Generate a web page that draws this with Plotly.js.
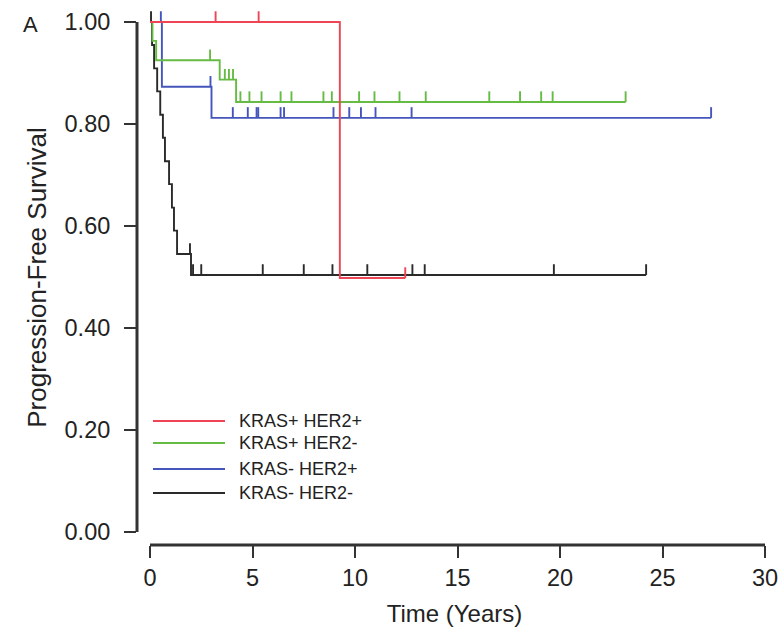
<!DOCTYPE html>
<html><head><meta charset="utf-8">
<script src="https://cdn.plot.ly/plotly-3.0.1.min.js"></script>
<style>html,body{margin:0;padding:0;background:#fff}#chart{width:782px;height:627px}</style>
</head><body><div id="chart"></div>
<script>
// ---- data ----
const groupNames = ['KRAS+ HER2+', 'KRAS+ HER2-', 'KRAS- HER2+', 'KRAS- HER2-'];
const groupColors = ['#EE4455', '#66BB44', '#4455BB', '#2A2A2A'];

const redTimes = [0, 9.26, 12.45];
const redSurv = [1.0, 0.498, 0.498];
const redCensor = [3.2, 5.3, 12.45];

const greenTimes = [0, 0.12, 0.3, 3.4, 4.2, 23.2];
const greenSurv = [1.0, 0.963, 0.925, 0.887, 0.843, 0.843];
const greenCensor = [2.93, 3.65, 3.85, 4.05, 4.41, 4.85, 5.44, 6.37, 6.9, 8.46, 8.87, 10.2, 10.95, 12.17, 13.45, 16.55, 18.05, 19.08, 19.64, 23.2];

const blueTimes = [0, 0.58, 3.0, 27.37];
const blueSurv = [1.0, 0.873, 0.812, 0.812];
const blueCensor = [0.53, 2.95, 4.04, 4.77, 5.2, 5.28, 6.37, 6.54, 8.95, 9.72, 10.29, 11.0, 12.76, 27.37];

const blackTimes = [0, 0.1, 0.2, 0.35, 0.5, 0.63, 0.73, 0.93, 1.07, 1.17, 1.32, 2.0, 24.2];
const blackSurv = [1.0, 0.955, 0.909, 0.864, 0.818, 0.773, 0.727, 0.682, 0.636, 0.591, 0.545, 0.504, 0.504];
const blackCensor = [0.05, 1.95, 2.1, 2.5, 5.5, 7.5, 8.9, 10.6, 12.8, 13.4, 19.7, 24.2];

const xTicks = [0, 5, 10, 15, 20, 25, 30];
const yTicks = [0, 0.2, 0.4, 0.6, 0.8, 1.0];

// ---- build traces ----
const censorHeight = 0.021;
function survAt(times, surv, t) {
  let v = surv[0];
  for (let i = 0; i < times.length; i++) { if (times[i] <= t) v = surv[i]; }
  return v;
}
function curveTraces(times, surv, censor, name, color) {
  const cx = [], cy = [];
  censor.forEach(t => {
    const s = survAt(times, surv, t);
    cx.push(t, t, null); cy.push(s, s + censorHeight, null);
  });
  return [
    {x: times, y: surv, type: 'scatter', mode: 'lines', name: name,
     line: {shape: 'hv', color: color, width: 1.9}, showlegend: false, hoverinfo: 'skip'},
    {x: cx, y: cy, type: 'scatter', mode: 'lines', name: name + ' censored',
     line: {color: color, width: 1.9}, showlegend: false, hoverinfo: 'skip'}
  ];
}
const data = [].concat(
  curveTraces(blackTimes, blackSurv, blackCensor, groupNames[3], groupColors[3]),
  curveTraces(blueTimes, blueSurv, blueCensor, groupNames[2], groupColors[2]),
  curveTraces(greenTimes, greenSurv, greenCensor, groupNames[1], groupColors[1]),
  curveTraces(redTimes, redSurv, redCensor, groupNames[0], groupColors[0])
);

// ---- layout ----
const axisColor = '#333333';
const shapes = [
  {type: 'line', xref: 'x', yref: 'paper', x0: xTicks[0], x1: xTicks[xTicks.length - 1], y0: 0, y1: 0,
   line: {color: axisColor, width: 3}},
  {type: 'line', xref: 'paper', yref: 'y', x0: 0, x1: 0, y0: yTicks[0], y1: yTicks[yTicks.length - 1],
   line: {color: axisColor, width: 3}}
];
const annotations = [
  {text: 'A', xref: 'paper', yref: 'paper', x: -0.168, y: 0.972, xanchor: 'center', yanchor: 'middle',
   showarrow: false, font: {size: 22, color: '#222'}}
];
const legendY = [0.2318, 0.1907, 0.1421, 0.0972];
groupNames.forEach((n, i) => {
  shapes.push({type: 'line', xref: 'paper', yref: 'paper', x0: 0.0252, x1: 0.1386, y0: legendY[i], y1: legendY[i],
               line: {color: groupColors[i], width: 2.2}});
  annotations.push({text: n, xref: 'paper', yref: 'paper', x: 0.1575, y: legendY[i], xanchor: 'left', yanchor: 'middle',
                    showarrow: false, font: {size: 18, color: '#222'}});
});

const layout = {
  width: 782, height: 627,
  margin: {l: 137, r: 10, t: 10, b: 82},
  paper_bgcolor: '#fff', plot_bgcolor: '#fff',
  font: {family: 'Liberation Sans, Arial, Helvetica, sans-serif', color: '#222', size: 22},
  showlegend: false,
  xaxis: {
    range: [-0.634, 30.34], tickvals: xTicks, ticks: 'outside', ticklen: 12, tickwidth: 2, tickcolor: axisColor,
    showgrid: false, zeroline: false, showline: false, tickfont: {size: 23.5},
    title: {text: 'Time (Years)', font: {size: 24}, standoff: 18}, automargin: false
  },
  yaxis: {
    range: [-0.0255, 1.0235], tickvals: yTicks, tickformat: '.2f', ticks: 'outside', ticklen: 12, tickwidth: 2,
    tickcolor: axisColor, showgrid: false, zeroline: false, showline: false, tickfont: {size: 23.5},
    ticklabelstandoff: 9,
    title: {text: 'Progression-Free Survival', font: {size: 26}, standoff: 10}, automargin: false
  },
  shapes: shapes,
  annotations: annotations
};

Plotly.newPlot('chart', data, layout, {staticPlot: true, displayModeBar: false});
</script>
</body></html>
